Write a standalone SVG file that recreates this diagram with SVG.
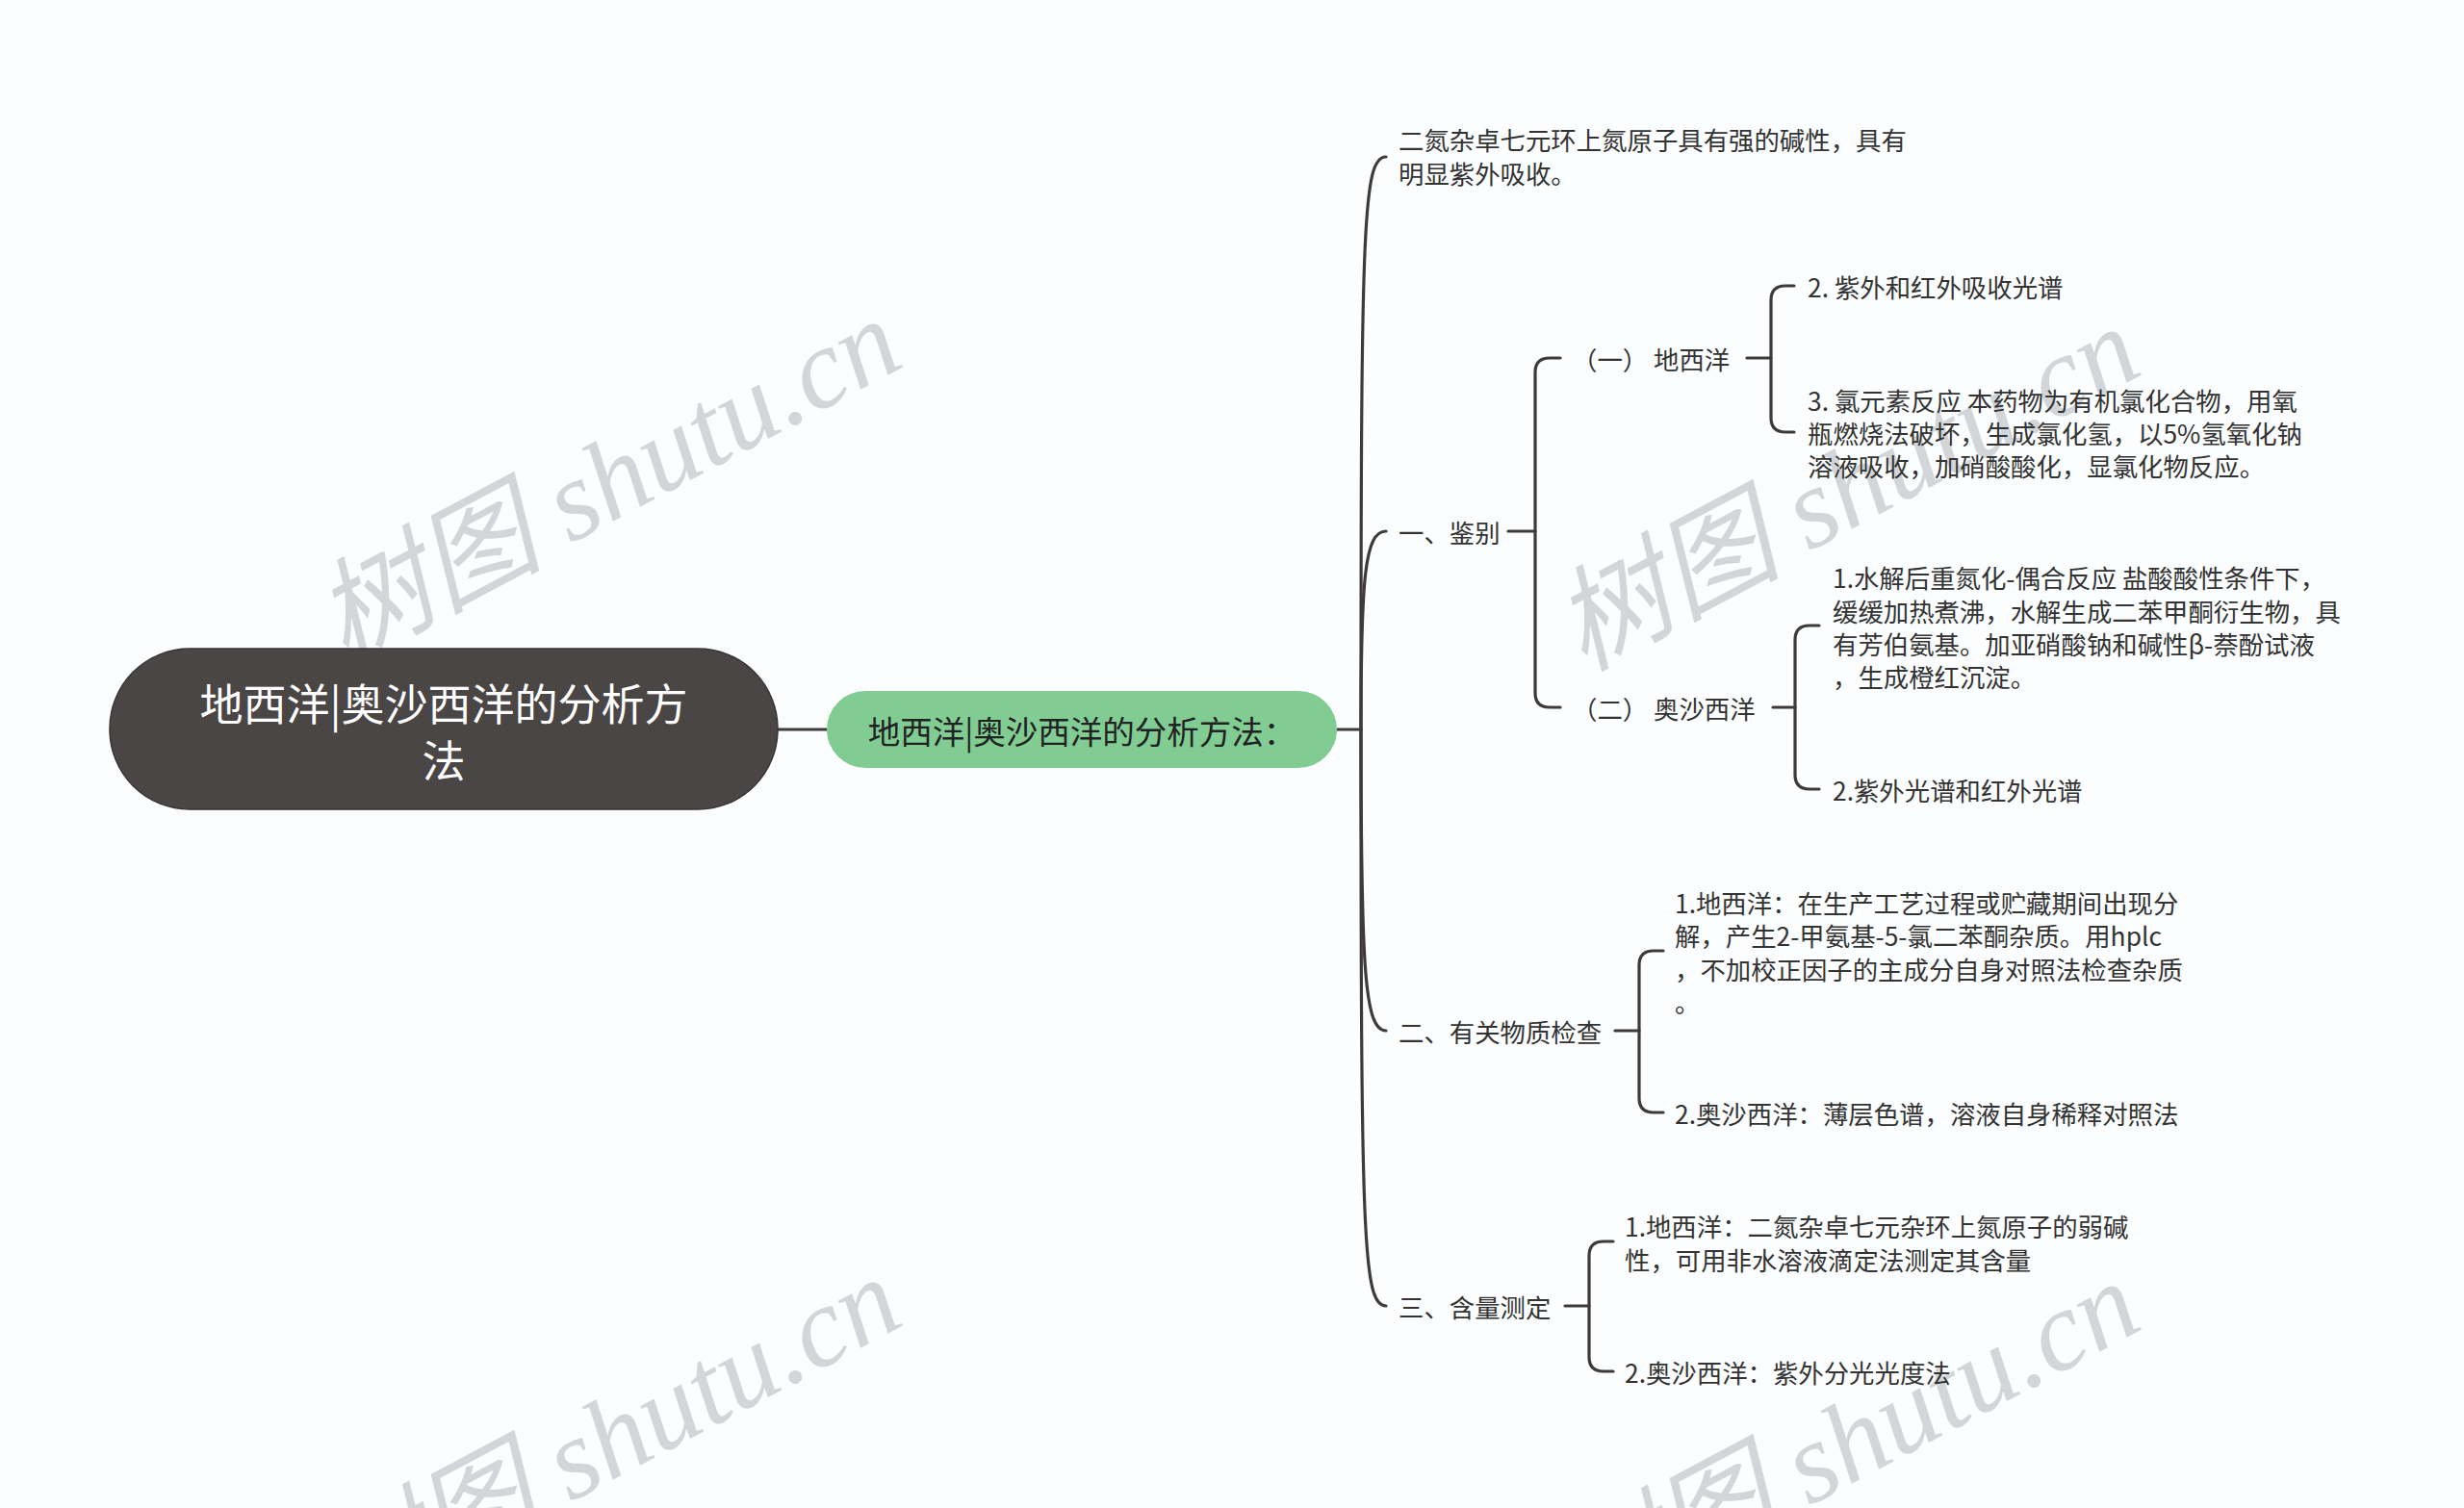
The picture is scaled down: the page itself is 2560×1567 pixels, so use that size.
<svg xmlns="http://www.w3.org/2000/svg" width="2560" height="1567" viewBox="0 0 2560 1567">
<style>
.t{font-family:"Noto Sans CJK SC","Noto Sans",sans-serif;font-size:26.4px;fill:#333333}
.c{fill:none;stroke:#3f3a3a;stroke-width:3.2;stroke-linecap:round;stroke-linejoin:round}
.wm{font-family:"Liberation Serif","Noto Sans CJK SC",serif;font-style:italic;font-size:118px;fill:#d2d6d9}
</style>
<rect width="2560" height="1567" fill="#fbfdfe"/>
<g id="watermarks">
<text class="wm" transform="translate(358,690) rotate(-28)">树图 shutu.cn</text>
<text class="wm" transform="translate(1645,698) rotate(-28)">树图 shutu.cn</text>
<text class="wm" transform="translate(358,1686) rotate(-28)">树图 shutu.cn</text>
<text class="wm" transform="translate(1645,1690) rotate(-28)">树图 shutu.cn</text>
</g>
<g id="connectors">
<path class="c" d="M808,758 H859"/>
<path class="c" d="M1389,758 H1414"/>
<path class="c" d="M1414,758 C1414,230 1416,163 1440,163"/>
<path class="c" d="M1414,758 C1414,600 1418,552 1440,552"/>
<path class="c" d="M1414,758 C1414,1010 1418,1071 1440,1071"/>
<path class="c" d="M1414,758 C1414,1290 1416,1357 1440,1357"/>
<path class="c" d="M1567,552 H1595"/>
<path class="c" d="M1621,372 H1610 Q1595,372 1595,387 V720 Q1595,735 1610,735 H1621"/>
<path class="c" d="M1815,372 H1840"/>
<path class="c" d="M1864,297 H1855 Q1840,297 1840,312 V434 Q1840,449 1855,449 H1864"/>
<path class="c" d="M1842,735 H1865"/>
<path class="c" d="M1890,650 H1880 Q1865,650 1865,665 V805 Q1865,820 1880,820 H1890"/>
<path class="c" d="M1678,1071 H1703"/>
<path class="c" d="M1728,988 H1718 Q1703,988 1703,1003 V1141 Q1703,1156 1718,1156 H1728"/>
<path class="c" d="M1626,1357 H1651"/>
<path class="c" d="M1676,1290 H1666 Q1651,1290 1651,1305 V1410 Q1651,1425 1666,1425 H1676"/>
</g>
<g id="root">
<rect x="114" y="674" width="694" height="167" rx="83" ry="83" fill="#4b4646" stroke="#3a3535" stroke-width="1.5"/>
<text font-family="'Noto Sans CJK SC',sans-serif" font-size="45" fill="#ffffff" text-anchor="middle" dominant-baseline="central"><tspan x="461" y="729">地西洋|奥沙西洋的分析方</tspan><tspan x="461" y="788">法</tspan></text>
</g>
<g id="main">
<rect x="859" y="718" width="530" height="80" rx="40" ry="40" fill="#80cc92"/>
<text x="1124" y="758" font-family="'Noto Sans CJK SC',sans-serif" font-size="33.5" fill="#222222" text-anchor="middle" dominant-baseline="central">地西洋|奥沙西洋的分析方法：</text>
</g>
<g id="n-basic">
<text class="t" dominant-baseline="central"><tspan x="1453" y="144">二氮杂卓七元环上氮原子具有强的碱性，具有</tspan><tspan x="1453" y="179">明显紫外吸收。</tspan></text>
</g>
<g id="n-ident">
<text class="t" x="1453" y="552" dominant-baseline="central">一、鉴别</text>
</g>
<g id="n-ident-dzp">
<text class="t" x="1633" y="372" dominant-baseline="central">（一） 地西洋</text>
</g>
<g id="n-ident-dzp-2">
<text class="t" x="1878" y="297" dominant-baseline="central">2. 紫外和红外吸收光谱</text>
</g>
<g id="n-ident-dzp-3">
<text class="t" dominant-baseline="central"><tspan x="1878" y="415">3. 氯元素反应 本药物为有机氯化合物，用氧</tspan><tspan x="1878" y="449">瓶燃烧法破坏，生成氯化氢，以5%氢氧化钠</tspan><tspan x="1878" y="483">溶液吸收，加硝酸酸化，显氯化物反应。</tspan></text>
</g>
<g id="n-ident-oxa">
<text class="t" x="1633" y="735" dominant-baseline="central">（二） 奥沙西洋</text>
</g>
<g id="n-ident-oxa-1">
<text class="t" dominant-baseline="central"><tspan x="1904" y="599">1.水解后重氮化-偶合反应 盐酸酸性条件下，</tspan><tspan x="1904" y="634">缓缓加热煮沸，水解生成二苯甲酮衍生物，具</tspan><tspan x="1904" y="668">有芳伯氨基。加亚硝酸钠和碱性β-萘酚试液</tspan><tspan x="1904" y="702">，生成橙红沉淀。</tspan></text>
</g>
<g id="n-ident-oxa-2">
<text class="t" x="1904" y="820" dominant-baseline="central">2.紫外光谱和红外光谱</text>
</g>
<g id="n-impur">
<text class="t" x="1453" y="1071" dominant-baseline="central">二、有关物质检查</text>
</g>
<g id="n-impur-1">
<text class="t" dominant-baseline="central"><tspan x="1740" y="937">1.地西洋：在生产工艺过程或贮藏期间出现分</tspan><tspan x="1740" y="971">解，产生2-甲氨基-5-氯二苯酮杂质。用hplc</tspan><tspan x="1740" y="1006">，不加校正因子的主成分自身对照法检查杂质</tspan><tspan x="1740" y="1040">。</tspan></text>
</g>
<g id="n-impur-2">
<text class="t" x="1740" y="1156" dominant-baseline="central">2.奥沙西洋：薄层色谱，溶液自身稀释对照法</text>
</g>
<g id="n-assay">
<text class="t" x="1453" y="1357" dominant-baseline="central">三、含量测定</text>
</g>
<g id="n-assay-1">
<text class="t" dominant-baseline="central"><tspan x="1688" y="1273">1.地西洋：二氮杂卓七元杂环上氮原子的弱碱</tspan><tspan x="1688" y="1308">性，可用非水溶液滴定法测定其含量</tspan></text>
</g>
<g id="n-assay-2">
<text class="t" x="1688" y="1425" dominant-baseline="central">2.奥沙西洋：紫外分光光度法</text>
</g>
</svg>
